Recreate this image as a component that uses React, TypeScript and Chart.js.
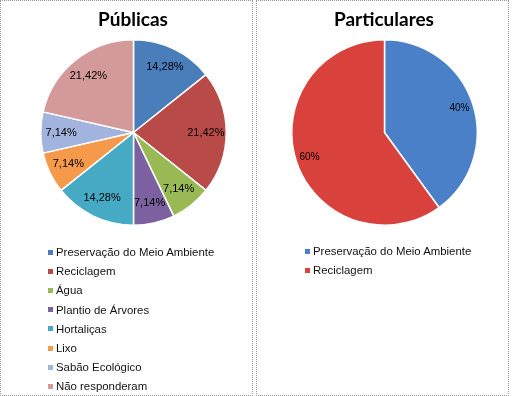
import React, { useEffect, useRef } from "react";
import { Chart, registerables } from "chart.js";

Chart.register(...registerables);

const publicasTitle = "Públicas";
const publicasCategories = [
  "Preservação do Meio Ambiente",
  "Reciclagem",
  "Água",
  "Plantio de Árvores",
  "Hortaliças",
  "Lixo",
  "Sabão Ecológico",
  "Não responderam",
];
const publicasValues = [14.28, 21.42, 7.14, 7.14, 14.28, 7.14, 7.14, 21.42];
const publicasColors = [
  "#4a7ebb",
  "#b84a48",
  "#98b954",
  "#7d60a0",
  "#46aac5",
  "#f59a4a",
  "#a2b3dd",
  "#d49a99",
];

const particularesTitle = "Particulares";
const particularesCategories = ["Preservação do Meio Ambiente", "Reciclagem"];
const particularesValues = [40, 60];
const particularesColors = ["#4a80c8", "#d8413c"];

const fmtPub = (v: number) => v.toFixed(2).replace(".", ",") + "%";
const fmtPart = (v: number) => v.toFixed(0) + "%";

const sliceLabels = {
  id: "sliceLabels",
  afterDatasetsDraw(chart: any, _args: any, opts: any) {
    const meta = chart.getDatasetMeta(0);
    const ds = chart.data.datasets[0];
    const ctx = chart.ctx;
    ctx.save();
    ctx.font = opts.font;
    ctx.fillStyle = "#000";
    ctx.textAlign = "center";
    ctx.textBaseline = "middle";
    meta.data.forEach((arc: any, i: number) => {
      const p = arc.getProps(["x", "y", "startAngle", "endAngle", "outerRadius"], true);
      const mid = (p.startAngle + p.endAngle) / 2;
      const r = p.outerRadius * opts.ratio;
      ctx.fillText(opts.format(ds.data[i]), p.x + Math.cos(mid) * r, p.y + Math.sin(mid) * r);
    });
    ctx.restore();
  },
};

type PanelProps = {
  left: number;
  title: string;
  categories: string[];
  values: number[];
  colors: string[];
  padding: { left: number; right: number; top: number; bottom: number };
  centerX: number;
  labelFont: string;
  labelRatio: number;
  format: (v: number) => string;
  legendBoxX: number;
  legendTop: number;
};

function Panel(props: PanelProps) {
  const ref = useRef<HTMLCanvasElement | null>(null);
  useEffect(() => {
    if (!ref.current) return;
    const chart = new Chart(ref.current, {
      type: "pie",
      data: {
        labels: props.categories,
        datasets: [
          {
            data: props.values,
            backgroundColor: props.colors,
            borderColor: "#ffffff",
            borderWidth: 1.5,
          },
        ],
      },
      options: {
        responsive: false,
        animation: false,
        layout: { padding: props.padding },
        plugins: {
          legend: { display: false },
          tooltip: { enabled: false },
          title: { display: false },
          sliceLabels: {
            font: props.labelFont,
            ratio: props.labelRatio,
            format: props.format,
          },
        } as any,
      },
      plugins: [sliceLabels],
    });
    return () => chart.destroy();
  }, []);

  return (
    <div
      style={{
        position: "absolute",
        left: props.left,
        top: 0,
        width: 253,
        height: 396,
        boxSizing: "border-box",
        border: "1px dotted #9a9a9a",
      }}
    >
      <canvas
        ref={ref}
        width={253}
        height={396}
        style={{ position: "absolute", left: -1, top: -1, width: 253, height: 396 }}
      />
      <div
        style={{
          position: "absolute",
          left: props.centerX - 1 - 100,
          width: 200,
          top: 5,
          textAlign: "center",
          font: "bold 19px Lato, 'Open Sans', sans-serif",
          color: "#000",
          lineHeight: "26px",
        }}
      >
        {props.title}
      </div>
      {props.categories.map((c, i) => (
        <div
          key={c}
          style={{
            position: "absolute",
            left: props.legendBoxX - 1,
            top: props.legendTop - 1 + i * 19.2 - 8,
            height: 16,
            display: "flex",
            alignItems: "center",
            font: "11.4px 'Liberation Sans', Arial, sans-serif",
            color: "#111",
            whiteSpace: "nowrap",
          }}
        >
          <span
            style={{
              display: "inline-block",
              width: 5,
              height: 5,
              background: props.colors[i],
              marginRight: 3,
            }}
          />
          <span>{c}</span>
        </div>
      ))}
    </div>
  );
}

export default function App() {
  return (
    <div
      style={{
        position: "fixed",
        left: 0,
        top: 0,
        width: 512,
        height: 396,
        background: "#fff",
        overflow: "hidden",
      }}
    >
      <Panel
        left={0}
        title={publicasTitle}
        categories={publicasCategories}
        values={publicasValues}
        colors={publicasColors}
        padding={{ left: 38, right: 24, top: 39, bottom: 170 }}
        centerX={133}
        labelFont="11px 'Liberation Sans', Arial, sans-serif"
        labelRatio={0.78}
        format={fmtPub}
        legendBoxX={48}
        legendTop={252}
      />
      <Panel
        left={256}
        title={particularesTitle}
        categories={particularesCategories}
        values={particularesValues}
        colors={particularesColors}
        padding={{ left: 34, right: 30, top: 39, bottom: 170 }}
        centerX={128}
        labelFont="10px 'Liberation Sans', Arial, sans-serif"
        labelRatio={0.85}
        format={fmtPart}
        legendBoxX={49}
        legendTop={251}
      />
    </div>
  );
}
